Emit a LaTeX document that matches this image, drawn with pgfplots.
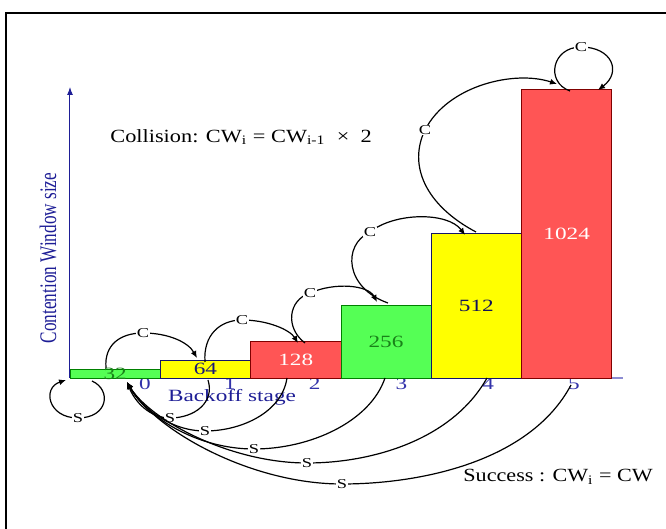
\documentclass[border=0pt]{standalone}
\usepackage{graphicx}
\usepackage{fontspec}
\setmainfont{Liberation Serif}
\usepackage{pgfplots}
\pgfplotsset{compat=1.18}
\usetikzlibrary{arrows.meta}

\definecolor{barGreen}{RGB}{85,255,85}
\definecolor{barYellow}{RGB}{255,255,0}
\definecolor{barRed}{RGB}{255,85,85}
\definecolor{navy}{RGB}{30,30,150}
\definecolor{tickblue}{RGB}{50,50,170}
\definecolor{axisblue}{RGB}{140,140,210}
\definecolor{darkgreen}{RGB}{25,130,25}

% the reference is stretched sideways, so text is too
\newcommand{\wide}[1]{\scalebox{1.35}[1]{#1}}
\newcommand{\mainfont}{\fontsize{8.6}{10}\selectfont}
\newcommand{\bigfont}{\fontsize{9.3}{11}\selectfont}
\newcommand{\smallfont}{\fontsize{6.8}{8}\selectfont}

\begin{document}
\begin{tikzpicture}
  \begin{axis}[
    at={(35pt,-189pt)}, anchor=south west,
    scale only axis,
    width=276.5pt, height=145.5pt,
    xmin=0, xmax=6.124,
    ymin=0, ymax=1031,
    axis lines=left,
    x axis line style={-, draw=axisblue, line width=0.6pt},
    y axis line style={-{Latex[length=4pt,width=3pt]}, draw=navy, line width=0.5pt},
    xtick={0.83,1.77,2.71,3.67,4.63,5.58},
    xticklabels={\wide{0},\wide{1},\wide{2},\wide{3},\wide{4},\wide{5}},
    xticklabel style={font=\mainfont, text=tickblue, inner sep=0pt, yshift=0pt},
    ytick=\empty,
    major tick length=0pt,
    ybar, bar width=1, bar shift=0pt,
    clip=false,
    nodes near coords={\wide{\pgfplotspointmeta}},
    point meta=explicit symbolic,
    every node near coord/.append style={anchor=center, font=\mainfont},
  ]
    \addplot[fill=barGreen, draw=green!50!black,
      every node near coord/.append style={yshift=-2.26pt, text=darkgreen}]
      coordinates {(0.5,32)[32]};
    \addplot[fill=barYellow, draw=navy!70!black,
      every node near coord/.append style={yshift=-4.52pt, text=navy!80!black}]
      coordinates {(1.5,64)[64]};
    \addplot[fill=barRed, draw=red!50!black,
      every node near coord/.append style={yshift=-9.03pt, text=white}]
      coordinates {(2.5,128)[128]};
    \addplot[fill=barGreen, draw=green!50!black,
      every node near coord/.append style={yshift=-18.06pt, text=darkgreen}]
      coordinates {(3.5,256)[256]};
    \addplot[fill=barYellow, draw=navy!70!black,
      every node near coord/.append style={yshift=-36.13pt, text=navy!60!black}]
      coordinates {(4.5,512)[512]};
    \addplot[fill=barRed, draw=red!50!black,
      every node near coord/.append style={yshift=-72.25pt, text=white}]
      coordinates {(5.5,1024)[1024]};
  \end{axis}

  % annotations, in pixels of the reference (y downwards is negative)
  \begin{scope}[x=0.5pt, y=0.5pt,
      arr/.style={line width=0.6pt, -{Latex[length=3.5pt,width=3pt]}},
      lbl/.style={fill=white, inner sep=0.4pt, font=\smallfont}]
    % frame
    \draw[line width=1pt] (6,-540) -- (6,-13) -- (680,-13);

    \node[anchor=west, inner sep=0pt, font=\bigfont] at (110,-137)
      {\scalebox{1.2}[1]{Collision: CW\textsubscript{i} = CW\textsubscript{i-1}\ \ ×\ \ 2}};
    \node[anchor=west, inner sep=0pt, font=\bigfont] at (463,-477)
      {\scalebox{1.19}[1]{Success : CW\textsubscript{i} = CW}};
    \node[inner sep=0pt, font=\mainfont, text=navy] at (232,-397)
      {\wide{Backoff stage}};
    \node[inner sep=0pt, font=\mainfont, text=navy] at (48,-258)
      {\scalebox{1.38}[1]{\rotatebox{90}{Contention Window size}}};

    % collisions
    \draw[arr] (106,-368) .. controls (104,-345) and (120,-333) .. (143,-333) node[lbl]{\wide{C}}
      .. controls (168,-333) and (188,-342) .. (197,-358);
    \draw[arr] (205,-362) .. controls (203,-335) and (220,-320) .. (242,-320) node[lbl]{\wide{C}}
      .. controls (268,-320) and (290,-330) .. (298,-343);
    \draw[arr] (305,-343) .. controls (285,-328) and (288,-300) .. (310,-293) node[lbl]{\wide{C}}
      .. controls (335,-282) and (368,-285) .. (377,-302);
    \draw[arr] (388,-303) .. controls (345,-288) and (342,-245) .. (370,-232) node[lbl]{\wide{C}}
      .. controls (395,-212) and (448,-212) .. (465,-235);
    \draw[arr] (476,-232) .. controls (425,-205) and (408,-165) .. (425,-130) node[lbl]{\wide{C}}
      .. controls (448,-85) and (515,-70) .. (557,-84);
    \draw[arr] (570,-91) .. controls (545,-82) and (552,-47) .. (581,-47) node[lbl]{\wide{C}}
      .. controls (612,-47) and (622,-72) .. (598,-90);

    % successes
    \draw[arr] (92,-381) .. controls (112,-390) and (108,-418) .. (78,-418) node[lbl]{\wide{S}}
      .. controls (48,-418) and (42,-388) .. (66,-380);
    \draw[arr] (208,-380) .. controls (215,-402) and (195,-418) .. (170,-418) node[lbl]{\wide{S}}
      .. controls (150,-418) and (135,-402) .. (127,-382);
    \draw[arr] (287,-378) .. controls (282,-412) and (242,-431) .. (205,-431) node[lbl]{\wide{S}}
      .. controls (168,-431) and (140,-405) .. (127,-382);
    \draw[arr] (385,-378) .. controls (370,-422) and (310,-449) .. (254,-449) node[lbl]{\wide{S}}
      .. controls (195,-449) and (145,-415) .. (127,-382);
    \draw[arr] (487,-378) .. controls (452,-440) and (372,-463) .. (307,-463) node[lbl]{\wide{S}}
      .. controls (230,-463) and (150,-420) .. (127,-382);
    \draw[arr] (571,-385) .. controls (530,-462) and (420,-484) .. (342,-484) node[lbl]{\wide{S}}
      .. controls (250,-484) and (155,-430) .. (127,-382);
  \end{scope}
  \pgfresetboundingbox
  \useasboundingbox (0,0) rectangle (333pt,-264.5pt);
\end{tikzpicture}
\end{document}
